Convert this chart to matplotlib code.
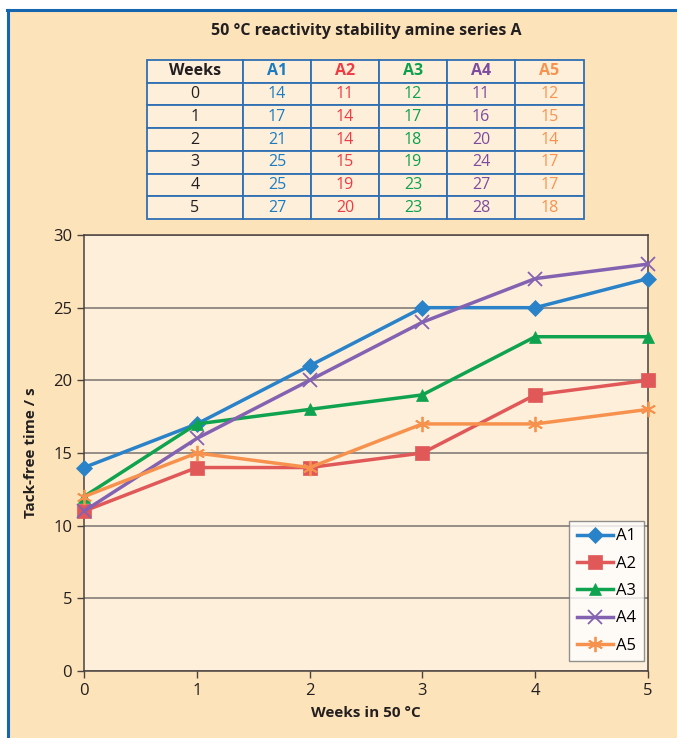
import numpy as np
import matplotlib
matplotlib.use("Agg")
import matplotlib.pyplot as plt
from matplotlib.patches import Rectangle

plt.rcParams['font.family'] = ['Open Sans', 'DejaVu Sans']

# ---- data ----
weeks = [0, 1, 2, 3, 4, 5]
series_names = ['A1', 'A2', 'A3', 'A4', 'A5']
a1 = [14, 17, 21, 25, 25, 27]
a2 = [11, 14, 14, 15, 19, 20]
a3 = [12, 17, 18, 19, 23, 23]
a4 = [11, 16, 20, 24, 27, 28]
a5 = [12, 15, 14, 17, 17, 18]
all_series = [a1, a2, a3, a4, a5]

title = '50 °C reactivity stability amine series A'
xlabel = 'Weeks in 50 °C'
ylabel = 'Tack-free time / s'

# ---- styles ----
line_colors = ['#2A82C8', '#E05858', '#0FA350', '#8462B2', '#F7924E']
text_colors = ['#1B7CC2', '#EE3B44', '#0DA04E', '#7D4C9F', '#F7934F']
markers = ['D', 's', '^', 'x', (6, 2, 0)]
msizes = [8, 10, 9, 10, 11]
outer_bg = '#FDE3B9'
inner_bg = '#FEEFDA'
blue = '#1566AE'
W, H = 677, 738

fig = plt.figure(figsize=(W / 100, H / 100), dpi=100)
fig.patch.set_facecolor('white')

# background panel with blue top/left rule, in a full-figure axes underneath
bg = fig.add_axes([0, 0, 1, 1], zorder=-10)
bg.set_xlim(0, W)
bg.set_ylim(H, 0)
bg.axis('off')
bg.add_patch(Rectangle((8, 10), W, H, facecolor=outer_bg, edgecolor='none'))
bg.plot([7, W], [10, 10], color=blue, lw=2.2)
bg.plot([8, 8], [10, H], color=blue, lw=2.2)

fig.text(366 / W, 1 - 31 / H, title, ha='center', va='center',
         fontsize=11.5, fontweight='bold', color='#231F20')

# ---- table ----
tx0, tx1, ty0, ty1 = 147, 584, 60, 219
tax = fig.add_axes([tx0 / W, 1 - ty1 / H, (tx1 - tx0) / W, (ty1 - ty0) / H])
tax.axis('off')
cell_text = [[str(w)] + [str(s[i]) for s in all_series] for i, w in enumerate(weeks)]
col_w = np.array([96, 68, 68, 68, 68, 69], dtype=float)
tbl = tax.table(cellText=cell_text, colLabels=['Weeks'] + series_names,
                colWidths=list(col_w / col_w.sum()), bbox=[0, 0, 1, 1],
                cellLoc='center')
tbl.auto_set_font_size(False)
for (r, c), cell in tbl.get_celld().items():
    cell.set_edgecolor('#2F6FB3')
    cell.set_linewidth(1.3)
    cell.set_facecolor(inner_bg)
    txt = cell.get_text()
    txt.set_fontsize(11.5)
    txt.set_color('#231F20' if c == 0 else text_colors[c - 1])
    if r == 0:
        txt.set_fontweight('bold')

# ---- chart ----
ax = fig.add_axes([84 / W, 1 - 671 / H, (648 - 84) / W, (671 - 235) / H])
ax.set_facecolor(inner_bg)
for name, vals, col, mk, ms in zip(series_names, all_series, line_colors, markers, msizes):
    thin = mk == 'x' or isinstance(mk, tuple)
    ax.plot(weeks, vals, color=col, lw=2.5, marker=mk, markersize=ms,
            markeredgewidth=1.3 if thin else 0.5,
            markeredgecolor=col, label=name, clip_on=False, zorder=3)

ax.set_xlim(0, 5)
ax.set_ylim(0, 30)
ax.set_xticks(weeks)
ax.set_yticks(np.arange(0, 31, 5))
ax.grid(axis='y', color='#7A7470', lw=1.1)
ax.set_axisbelow(True)
for sp in ax.spines.values():
    sp.set_color('#4A4240')
    sp.set_linewidth(1.1)
ax.tick_params(direction='out', length=5, width=1, color='#4A4240',
               labelsize=12, labelcolor='#231F20')
ax.set_xlabel(xlabel, fontsize=11, fontweight='bold', color='#231F20', labelpad=5)
ax.set_ylabel(ylabel, fontsize=11, fontweight='bold', color='#231F20', labelpad=11)

leg = ax.legend(loc='upper left',
                bbox_to_anchor=((569 - 84) / (648 - 84), 1 - (521 - 235) / (671 - 235)),
                frameon=True, fancybox=False, fontsize=12, handlelength=2.2,
                handletextpad=0.2, labelspacing=0.68, borderpad=0.45, borderaxespad=0)
leg.get_frame().set_edgecolor('#777777')
leg.get_frame().set_facecolor('white')
leg.get_frame().set_linewidth(1)

fig.savefig('out.png', dpi=100, facecolor=fig.get_facecolor())
